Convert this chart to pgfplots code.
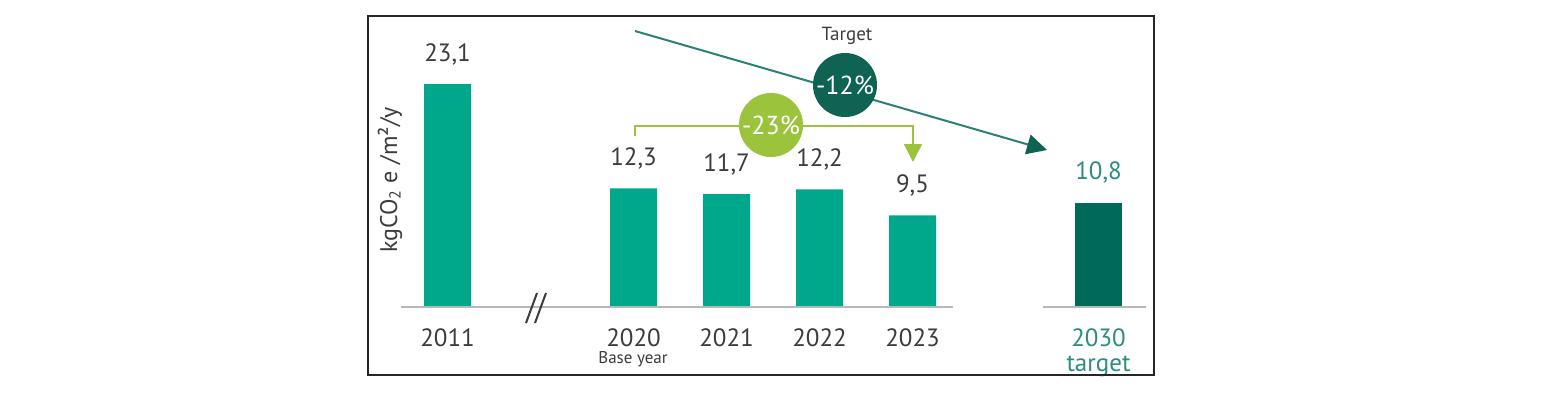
\documentclass[border=0pt]{standalone}
\usepackage{pgfplots}
\pgfplotsset{compat=1.18}
\usetikzlibrary{arrows.meta}
\usepackage{fontspec}
\setmainfont{PT Sans}
\definecolor{barlight}{HTML}{00A88B}
\definecolor{bardark}{HTML}{00695A}
\definecolor{txtgray}{HTML}{3C3C3C}
\definecolor{tealtxt}{HTML}{2E8B7D}
\definecolor{circdark}{HTML}{0E6352}
\definecolor{arrowteal}{HTML}{2C8076}
\definecolor{lgreen}{HTML}{9BC33C}
\definecolor{basegray}{HTML}{B4B9B9}
\begin{document}
\begin{tikzpicture}
\path[use as bounding box, fill=white] (0,0) rectangle (777pt,196pt);
\begin{axis}[
  at={(177.25pt,42.5pt)}, anchor=south west,
  scale only axis, width=418.5pt, height=144.75pt,
  xmin=-1, xmax=8, ymin=0, ymax=30,
  axis line style={draw=none}, tick style={draw=none},
  ytick=\empty,
  xtick={0,2,3,4,5,7},
  xticklabels={2011,2020,2021,2022,2023,{\textcolor{tealtxt}{2030}\\\textcolor{tealtxt}{target}}},
  xticklabel style={font=\fontsize{12.5}{12.5}\selectfont, text=txtgray, align=center, anchor=north, inner sep=1pt, yshift=-5.5pt},
  ybar, bar width=23.5pt, bar shift=0pt,
  nodes near coords,
  every node near coord/.append style={font=\fontsize{12.5}{14}\selectfont, text=txtgray, yshift=6pt},
  /pgf/number format/use comma, /pgf/number format/fixed, /pgf/number format/fixed zerofill, /pgf/number format/precision=1,
  /pgf/number format/assume math mode=true,
  clip=false,
]
\addplot[fill=barlight, draw=none] coordinates {(0,23.1) (2,12.3) (3,11.7) (4,12.2) (5,9.5)};
\addplot[fill=bardark, draw=none, every node near coord/.append style={text=tealtxt}] coordinates {(7,10.8)};
\draw[basegray, line width=1pt] (axis cs:-0.5,0) -- (axis cs:5.435,0);
\draw[basegray, line width=1pt] (axis cs:6.4,0) -- (axis cs:7.51,0);
\end{axis}
\begin{scope}[shift={(0pt,196pt)}, x=0.5pt, y=-0.5pt]
\draw[line width=1pt, black!85] (368,16) rectangle (1154,375);
\draw[txtgray, line width=1pt] (537,293) -- (526,323) (546,293) -- (535,323);
\draw[arrowteal, line width=1pt, -{Triangle[length=10pt,width=10pt,color=circdark]}] (635,31) -- (1047,150);
\fill[circdark] (845,85) circle[radius=16pt];
\node[white, font=\fontsize{13}{14}\selectfont] at (845,85) {-12\%};
\node[txtgray, font=\fontsize{9.5}{11}\selectfont] at (847,36) {Target};
\draw[lgreen, line width=0.8pt, -{Triangle[length=9pt,width=9pt]}] (635,136) -- (635,126) -- (913,126) -- (913,162);
\fill[lgreen] (771,125) circle[radius=16pt];
\node[white, font=\fontsize{13}{14}\selectfont] at (771,125) {-23\%};
\node[rotate=90, txtgray, font=\fontsize{12}{14}\selectfont] at (390,180) {kgCO\textsubscript{2} e /m²/y};
\node[txtgray, inner sep=0pt, font=\fontsize{8.5}{10}\selectfont] at (633,359) {Base year};
\end{scope}
\end{tikzpicture}
\end{document}
